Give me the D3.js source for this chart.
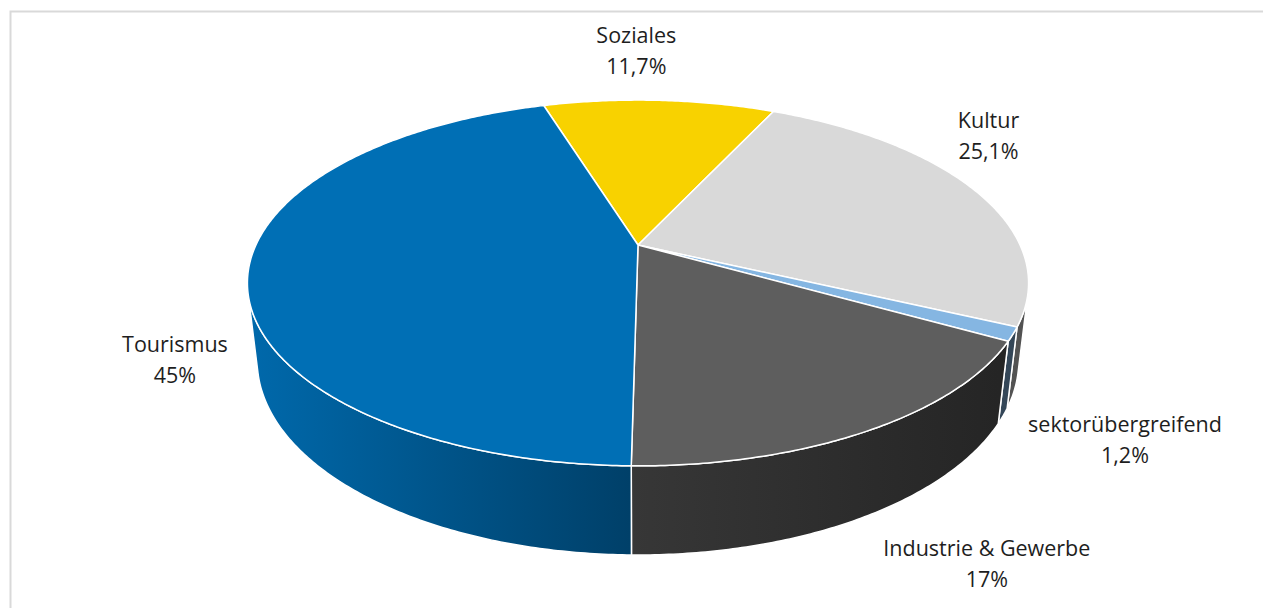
<!DOCTYPE html>
<html>
<head>
<meta charset="utf-8">
<title>Anteile nach Bereich</title>
<script src="https://cdn.jsdelivr.net/npm/d3@7"></script>
<style>
body { margin: 0; background: #fff; }
svg text {
    font-family: "Open Sans", "Noto Sans", sans-serif;
    font-size: 21.5px;
    fill: #1e1e1e;
}
</style>
</head>
<body>
<script>
// chart data
var categories = ["Soziales", "Kultur", "sektorübergreifend", "Industrie & Gewerbe", "Tourismus"];
var shares     = [11.7, 25.1, 1.2, 17, 45];
var shareText  = ["11,7%", "25,1%", "1,2%", "17%", "45%"];
var colors     = ["#F8D200", "#D9D9D9", "#85B6E2", "#5E5E5E", "#006FB5"];

var width = 1263, height = 608;

var svg = d3.select("body").append("svg")
    .attr("width", width)
    .attr("height", height);

// chart frame
svg.append("rect")
    .attr("x", 10.5).attr("y", 11.5)
    .attr("width", width + 20).attr("height", height + 20)
    .attr("fill", "none")
    .attr("stroke", "#d9d9d9")
    .attr("stroke-width", 2);

// simple perspective camera for the 3d pie
var cx = 638, cy = 245;
var f = 1636, D = 4.282;
var sinA = 0.458, cosA = Math.sqrt(1 - sinA * sinA);
var T = 0.2305;   // thickness of the pie (radius = 1)

function proj(theta, r, y) {
    var X = r * Math.sin(theta), Z = -r * Math.cos(theta);
    var depth = D - (y * sinA + Z * cosA);
    return [cx + f * X / depth, cy + f * (Z * sinA - y * cosA) / depth];
}

function arcPoints(a0, a1, r, y) {
    var n = Math.max(2, Math.ceil(Math.abs(a1 - a0) / 0.01));
    return d3.range(n + 1).map(function(i) {
        return proj(a0 + (a1 - a0) * i / n, r, y);
    });
}

var startDeg = -17.2;
var pie = d3.pie().sort(null)
    .startAngle(startDeg * Math.PI / 180)
    .endAngle(startDeg * Math.PI / 180 + 2 * Math.PI);
var slices = pie(shares);

var line = d3.line();

// side wall shading, lighter on the left
var leftX = proj(-Math.PI / 2, 1, 0)[0], rightX = proj(Math.PI / 2, 1, 0)[0];
var defs = svg.append("defs");
function shade(c, k) {
    var rgb = d3.rgb(c);
    return d3.rgb(rgb.r * k, rgb.g * k, rgb.b * k).formatHex();
}
slices.forEach(function(s, i) {
    var g = defs.append("linearGradient")
        .attr("id", "wall" + i)
        .attr("gradientUnits", "userSpaceOnUse")
        .attr("x1", leftX).attr("x2", rightX)
        .attr("y1", 0).attr("y2", 0);
    [[0, 0.94], [0.49, 0.58], [1, 0.38]].forEach(function(st) {
        g.append("stop").attr("offset", st[0]).attr("stop-color", shade(colors[i], st[1]));
    });
});

// visible part of the outer wall
var c0 = Math.acos(-1 / (D * cosA));
var visLo = c0, visHi = 2 * Math.PI - c0;

var walls = svg.append("g");
slices.forEach(function(s, i) {
    var lo = Math.max(s.startAngle, visLo), hi = Math.min(s.endAngle, visHi);
    if (hi <= lo) return;
    var pts = arcPoints(lo, hi, 1, 0).concat(arcPoints(hi, lo, 1, -T));
    walls.append("path")
        .attr("d", line(pts) + "Z")
        .attr("fill", "url(#wall" + i + ")")
        .attr("stroke", "#fff")
        .attr("stroke-width", 1.5)
        .attr("stroke-linejoin", "round");
});

// top faces
var tops = svg.append("g");
slices.forEach(function(s, i) {
    var pts = [proj(0, 0, 0)].concat(arcPoints(s.startAngle, s.endAngle, 1, 0));
    tops.append("path")
        .attr("d", line(pts) + "Z")
        .attr("fill", colors[i])
        .attr("stroke", "#fff")
        .attr("stroke-width", 1.5)
        .attr("stroke-linejoin", "round");
});

// data labels (best fit outside the pie)
var labelNudge = [[-23, -57], [15, -61], [122, 16], [124, 38], [-83, 3]];
var labels = svg.append("g");
slices.forEach(function(s, i) {
    var mid = (s.startAngle + s.endAngle) / 2;
    var back = Math.cos(mid) > 0;
    var p = proj(mid, 1, back ? 0 : -T);
    var t = labels.append("text")
        .attr("text-anchor", "middle")
        .attr("x", p[0] + labelNudge[i][0])
        .attr("y", p[1] + labelNudge[i][1]);
    t.append("tspan").attr("x", p[0] + labelNudge[i][0]).text(categories[i]);
    t.append("tspan").attr("x", p[0] + labelNudge[i][0]).attr("dy", 31).text(shareText[i]);
});
</script>
</body>
</html>
